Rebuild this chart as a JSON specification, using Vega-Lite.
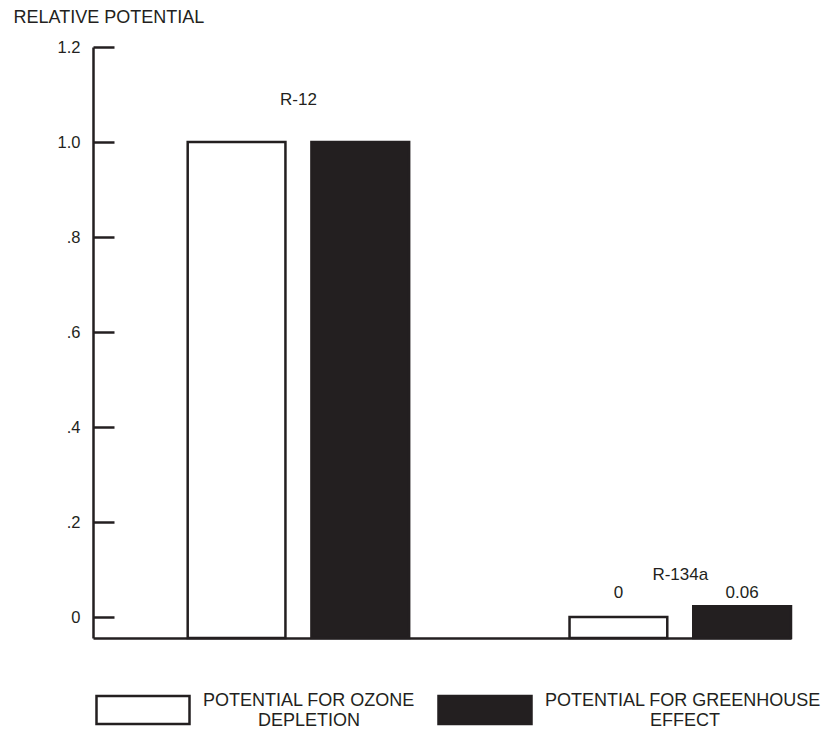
{
  "$schema": "https://vega.github.io/schema/vega-lite/v6.json",
  "autosize": "none",
  "padding": {"left": 93, "top": 47, "right": 36, "bottom": 96},
  "width": 698,
  "height": 591,
  "background": "white",
  "config": {
    "view": {"stroke": null},
    "font": "Liberation Sans",
    "text": {"font": "Liberation Sans"}
  },
  "data": {
    "values": [
      {"group": "R-12", "series": "ozone", "value": 1.0, "label": ""},
      {"group": "R-12", "series": "greenhouse", "value": 1.0, "label": ""},
      {"group": "R-134a", "series": "ozone", "value": 0.0, "label": "0"},
      {"group": "R-134a", "series": "greenhouse", "value": 0.023, "label": "0.06"}
    ]
  },
  "transform": [
    {"joinaggregate": [{"op": "min", "field": "value", "as": "minVal"}], "groupby": ["group"]}
  ],
  "encoding": {
    "x": {
      "field": "group",
      "type": "nominal",
      "sort": ["R-12", "R-134a"],
      "scale": {"paddingInner": 0.42, "paddingOuter": 0.124, "align": 1},
      "axis": {
        "title": null,
        "labels": false,
        "ticks": false,
        "domainColor": "#231f20",
        "domainWidth": 2.5
      }
    }
  },
  "layer": [
    {
      "mark": {"type": "bar", "stroke": "#231f20", "strokeWidth": 2.5},
      "encoding": {
        "xOffset": {
          "field": "series",
          "type": "nominal",
          "sort": ["ozone", "greenhouse"],
          "scale": {"paddingInner": 0.21, "paddingOuter": 0}
        },
        "y": {
          "field": "value",
          "type": "quantitative",
          "scale": {"domain": [-0.044, 1.2], "nice": false, "zero": false},
          "axis": {
            "values": [0, 0.2, 0.4, 0.6, 0.8, 1.0, 1.2],
            "labelExpr": "datum.value >= 1 ? format(datum.value, '.1f') : (datum.value == 0 ? '0' : replace(format(datum.value, '.1f'), '0.', '.'))",
            "grid": false,
            "tickSize": -21,
            "tickWidth": 2.5,
            "tickColor": "#231f20",
            "domainColor": "#231f20",
            "domainWidth": 2.5,
            "labelPadding": 34,
            "labelFontSize": 16.5,
            "labelColor": "#231f20",
            "labelFont": "Liberation Sans",
            "title": "RELATIVE POTENTIAL",
            "titleAngle": 0,
            "titleAlign": "left",
            "titleBaseline": "middle",
            "titleX": -80,
            "titleY": -30,
            "titleFontSize": 18,
            "titleFontWeight": "normal",
            "titleColor": "#231f20",
            "titleFont": "Liberation Sans"
          }
        },
        "y2": {"datum": -0.044},
        "fill": {
          "field": "series",
          "type": "nominal",
          "scale": {"domain": ["ozone", "greenhouse"], "range": ["#ffffff", "#231f20"]},
          "legend": {
            "title": null,
            "orient": "none",
            "legendX": 2,
            "legendY": 615,
            "direction": "horizontal",
            "padding": 0,
            "symbolType": "M-1,-0.3H1V0.3H-1Z",
            "symbolSize": 8650,
            "symbolStrokeColor": "#231f20",
            "symbolStrokeWidth": 2.5,
            "labelOffset": 12,
            "columnPadding": 17,
            "labelLimit": 500,
            "labelFontSize": 18,
            "labelColor": "#231f20",
            "labelFont": "Liberation Sans",
            "labelBaseline": "bottom",
            "labelExpr": "datum.label == 'ozone' ? ['POTENTIAL FOR OZONE', '\u200c\u00a0\u00a0\u00a0\u00a0\u00a0\u00a0\u00a0\u00a0\u00a0\u00a0\u00a0DEPLETION'] : ['POTENTIAL FOR GREENHOUSE', '\u200c\u00a0\u00a0\u00a0\u00a0\u00a0\u00a0\u00a0\u00a0\u00a0\u00a0\u00a0\u00a0\u00a0\u00a0\u00a0\u00a0\u00a0\u00a0\u00a0\u00a0\u00a0EFFECT']"
          }
        }
      }
    },
    {
      "transform": [{"filter": "datum.series == 'ozone'"}],
      "mark": {"type": "text", "dy": -42, "fontSize": 17, "color": "#231f20", "baseline": "middle"},
      "encoding": {
        "y": {"field": "minVal", "type": "quantitative"},
        "text": {"field": "group"}
      }
    },
    {
      "transform": [{"filter": "datum.label != ''"}],
      "mark": {"type": "text", "dy": -24, "fontSize": 17, "color": "#231f20", "baseline": "middle"},
      "encoding": {
        "xOffset": {"field": "series", "type": "nominal", "sort": ["ozone", "greenhouse"]},
        "y": {"field": "minVal", "type": "quantitative"},
        "text": {"field": "label"}
      }
    }
  ]
}
